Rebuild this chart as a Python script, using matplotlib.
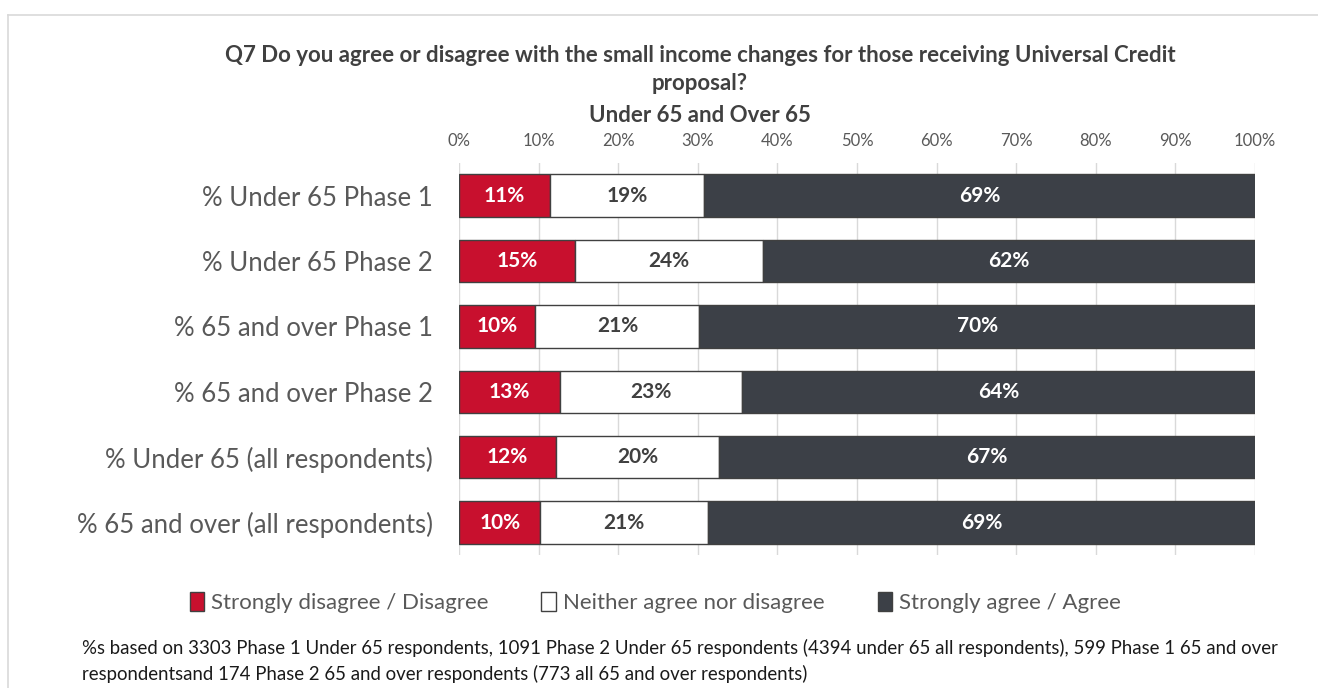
import matplotlib.pyplot as plt
import numpy as np
from matplotlib.patches import Rectangle
from matplotlib.lines import Line2D

plt.rcParams['font.family'] = ['Lato', 'DejaVu Sans']

categories = [
    "% Under 65 Phase 1",
    "% Under 65 Phase 2",
    "% 65 and over Phase 1",
    "% 65 and over Phase 2",
    "% Under 65 (all respondents)",
    "% 65 and over (all respondents)",
]
disagree = [11.4, 14.6, 9.6, 12.7, 12.2, 10.2]
neither = [19.4, 23.6, 20.6, 22.9, 20.4, 21.1]
agree = [69.2, 61.8, 69.8, 64.4, 67.4, 68.7]

series_names = ["Strongly disagree / Disagree", "Neither agree nor disagree", "Strongly agree / Agree"]
colors = ["#C8102E", "#FFFFFF", "#3C4047"]
text_colors = ["white", "#404040", "white"]

fig = plt.figure(figsize=(13.18, 6.88), dpi=100)
ax = fig.add_axes([0.3483, 0.193, 0.6039, 0.570])

y = np.arange(len(categories))
left = np.zeros(len(categories))
for vals, name, col, tcol in zip([disagree, neither, agree], series_names, colors, text_colors):
    vals = np.array(vals)
    bars = ax.barh(y, vals, left=left, height=0.65, color=col, edgecolor="#404040",
                   linewidth=1.0, label=name, zorder=3)
    for b, v in zip(bars, vals):
        ax.text(b.get_x() + b.get_width() / 2, b.get_y() + b.get_height() / 2, f"{v:.0f}%",
                ha="center", va="center", color=tcol, fontsize=15, fontweight="bold", zorder=4)
    left += vals

ax.set_xlim(0, 100)
ax.set_ylim(len(categories) - 0.5, -0.5)
ax.set_xticks(np.arange(0, 101, 10))
ax.set_xticklabels([f"{t}%" for t in range(0, 101, 10)])
ax.xaxis.tick_top()
ax.tick_params(axis="x", length=0, labelsize=12, labelcolor="#595959", pad=10)
ax.set_yticks(y)
ax.set_yticklabels(categories)
ax.tick_params(axis="y", length=0, labelsize=18.5, labelcolor="#595959", pad=19)
ax.grid(axis="x", color="#D9D9D9", linewidth=1, zorder=0)
for s in ax.spines.values():
    s.set_visible(False)

title_kw = dict(ha="center", va="center", fontsize=16, fontweight="bold", color="#404040")
fig.text(0.531, 0.919, "Q7 Do you agree or disagree with the small income changes for those receiving Universal Credit", **title_kw)
fig.text(0.531, 0.878, "proposal?", **title_kw)
fig.text(0.531, 0.832, "Under 65 and Over 65", **title_kw)

handles = [Rectangle((0, 0), 1, 1, facecolor=c, edgecolor="#404040", linewidth=1) for c in colors]
fig.legend(handles, series_names, loc="center", bbox_to_anchor=(0.497, 0.124), ncol=3, frameon=False,
           fontsize=16, labelcolor="#595959", handlelength=0.65, handleheight=0.9, handletextpad=0.3,
           columnspacing=2.4)

fig.text(0.062, 0.058, "%s based on 3303 Phase 1 Under 65 respondents, 1091 Phase 2 Under 65 respondents (4394 under 65 all respondents), 599 Phase 1 65 and over",
         ha="left", va="center", fontsize=13.4, color="#1a1a1a")
fig.text(0.062, 0.021, "respondentsand 174 Phase 2 65 and over respondents (773 all 65 and over respondents)",
         ha="left", va="center", fontsize=13.4, color="#1a1a1a")

# outer chart frame (cropped)
fig.add_artist(Line2D([0.006, 1.0], [0.978, 0.978], color="#D9D9D9", linewidth=1.2))
fig.add_artist(Line2D([0.006, 0.006], [0.0, 0.978], color="#D9D9D9", linewidth=1.2))

fig.savefig("out.png", dpi=100)
